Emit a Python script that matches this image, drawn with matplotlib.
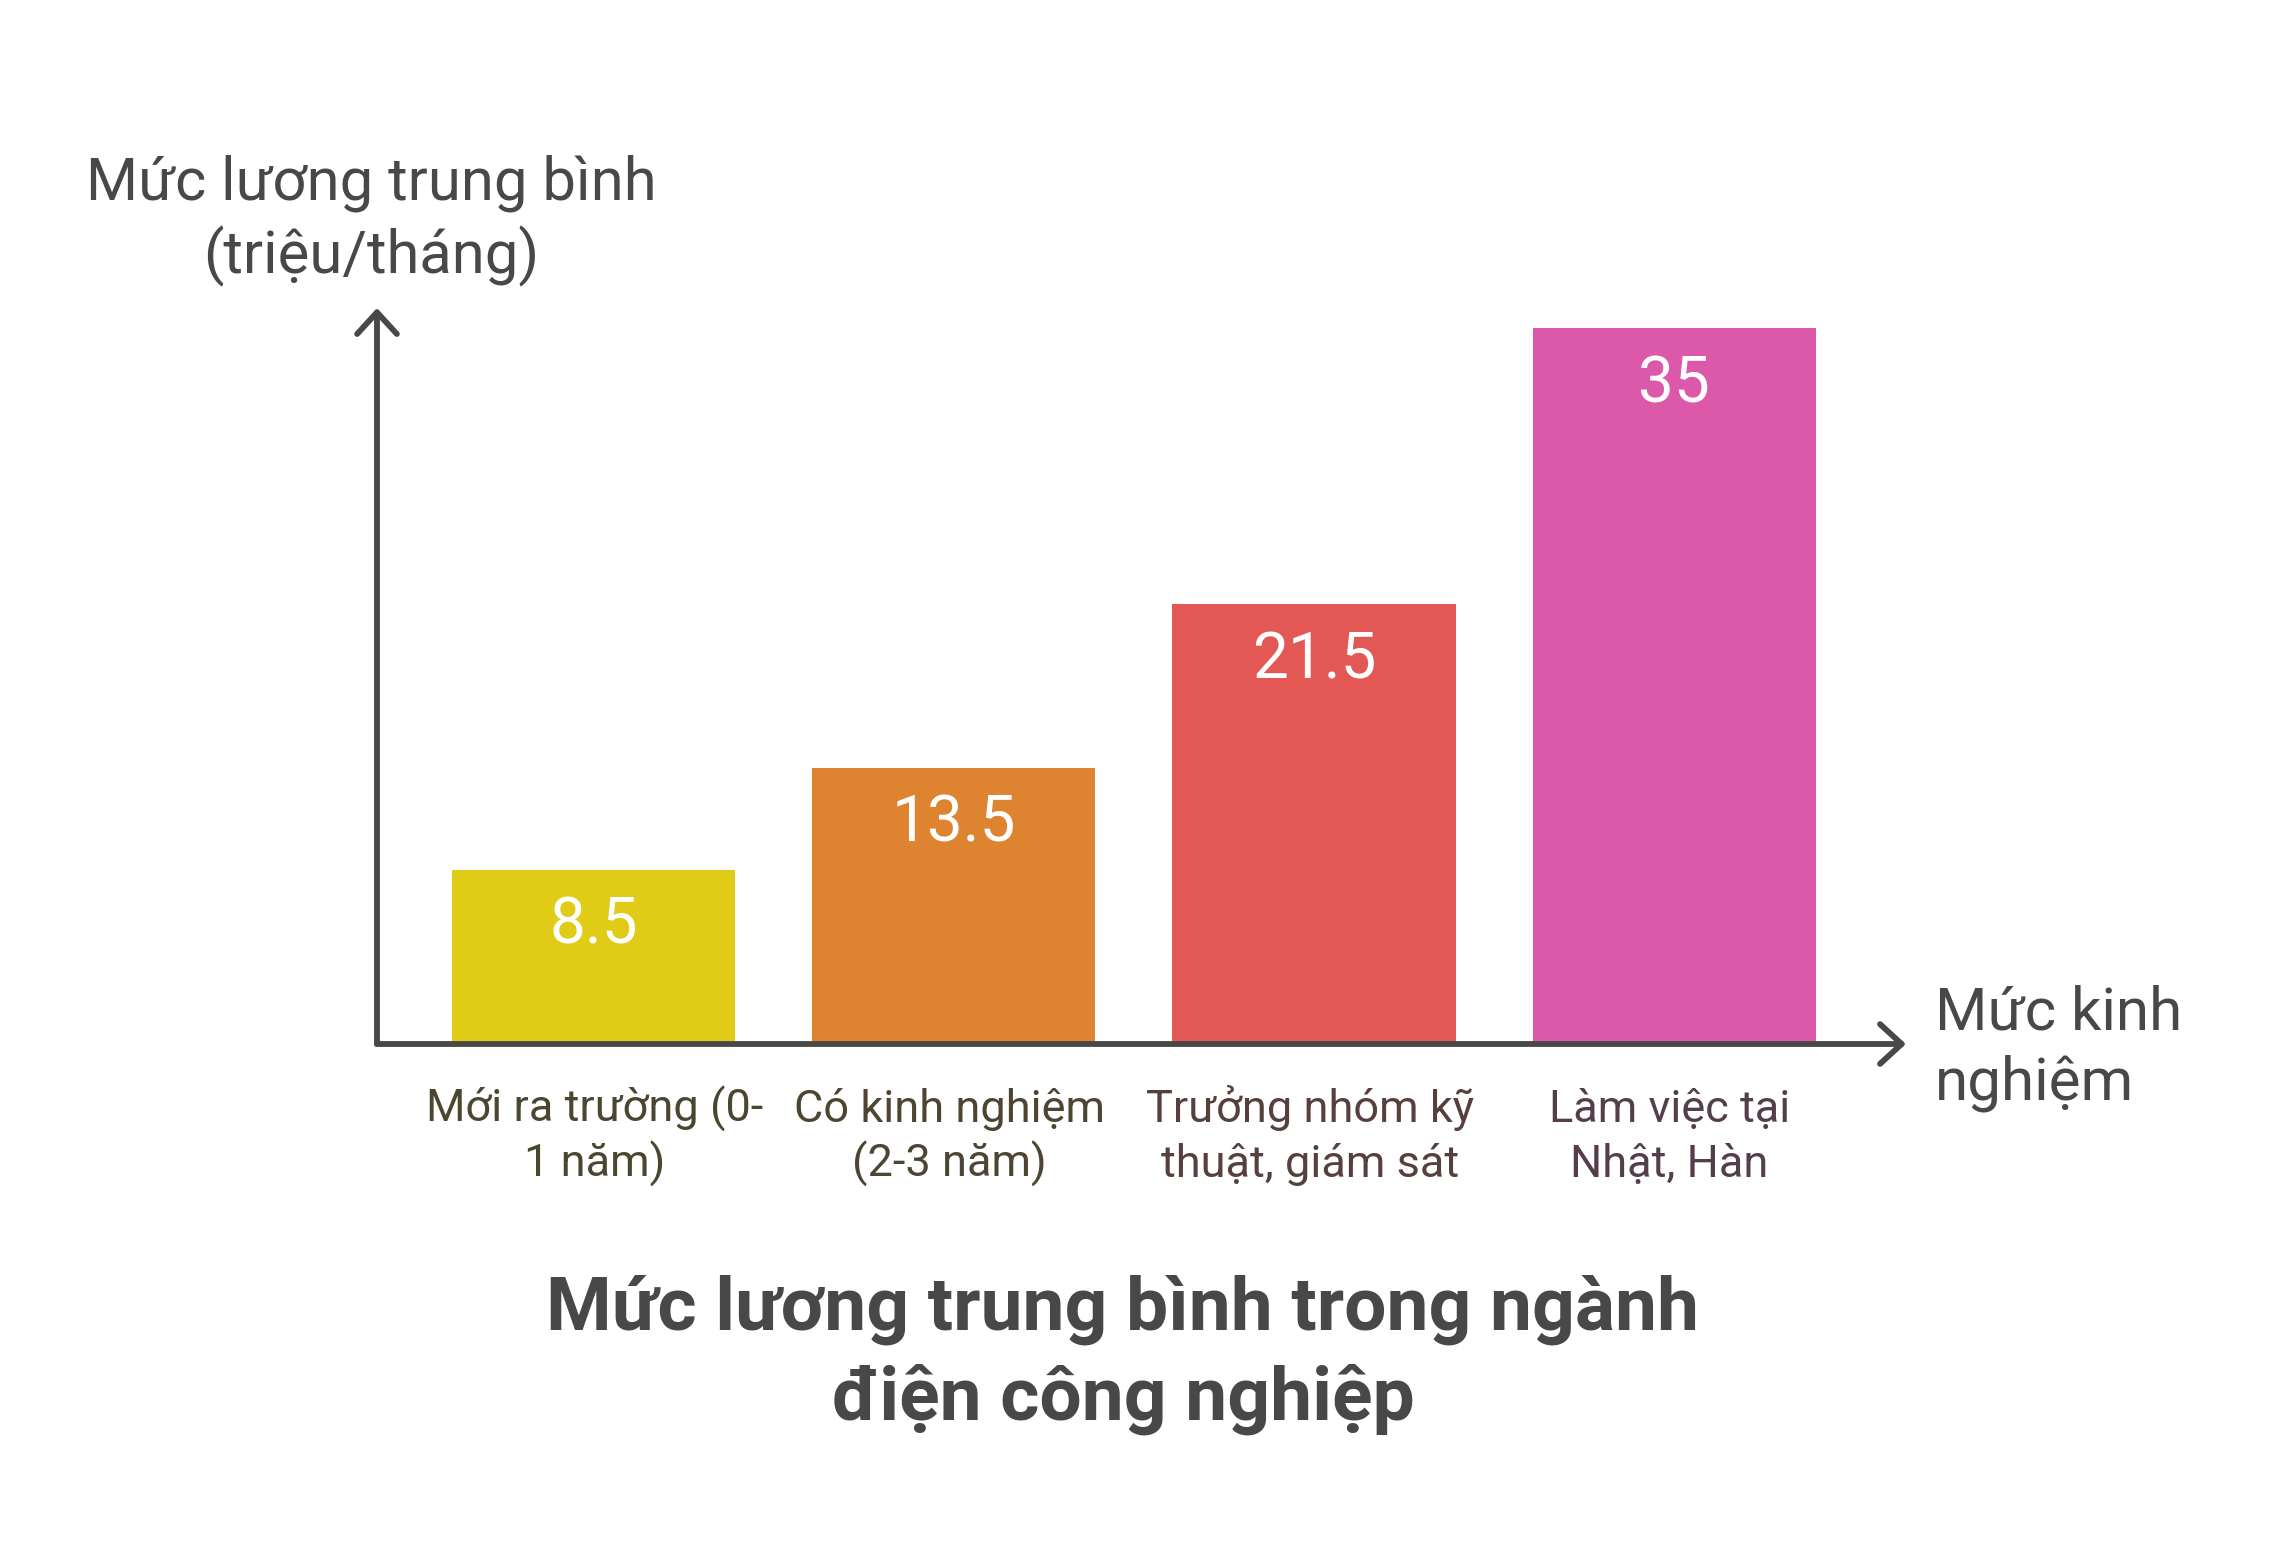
import matplotlib
matplotlib.use("Agg")
import matplotlib.pyplot as plt
import matplotlib.transforms as mtransforms

plt.rcParams['font.family'] = ['Roboto', 'DejaVu Sans']

# data
categories = ["Mới ra trường (0-\n1 năm)", "Có kinh nghiệm\n(2-3 năm)",
              "Trưởng nhóm kỹ\nthuật, giám sát", "Làm việc tại\nNhật, Hàn"]
salaries = [8.5, 13.5, 21.5, 35]
value_labels = ["8.5", "13.5", "21.5", "35"]
bar_colors = ["#e0cc16", "#de8431", "#e35855", "#dc58a8"]
label_colors = ["#4a4630", "#4d4431", "#573f3e", "#553e4b"]

y_title = "Mức lương trung bình\n(triệu/tháng)"
x_title = "Mức kinh\nnghiệm"
chart_title = "Mức lương trung bình trong ngành\nđiện công nghiệp"

W, H = 2286, 1548
AXIS = "#484848"

fig = plt.figure(figsize=(W / 100, H / 100), dpi=100)
fig.patch.set_facecolor("white")

# axes placed in pixels: y-axis at x=377, x-axis at y=1044, arrows end at 1906 / 308
left, right, bottom, top = 377, 1906, 1044, 308
ax = fig.add_axes([left / W, 1 - bottom / H, (right - left) / W, (bottom - top) / H])
ax.set_xlim(-0.601, 3.643)
ax.set_ylim(0, 36.0)
ax.axis("off")

x = list(range(len(salaries)))
ax.bar(x, salaries, width=0.786, color=bar_colors, zorder=1)

for i, v in enumerate(salaries):
    ax.annotate(value_labels[i], xy=(i, v), xytext=(0, -53), textcoords="offset points",
                ha="center", va="baseline", color="white", fontsize=46, zorder=3)

# axis arrows
arrow = dict(arrowstyle="->,head_length=1.2,head_width=1.1", lw=4.2, color=AXIS,
             mutation_scale=13, capstyle="round", joinstyle="round", shrinkA=0, shrinkB=0)
ax.annotate("", xy=(1, 0), xytext=(0, 0), xycoords="axes fraction",
            arrowprops=arrow, zorder=4, annotation_clip=False)
ax.annotate("", xy=(0, 1), xytext=(0, 0), xycoords="axes fraction",
            arrowprops=arrow, zorder=4, annotation_clip=False)


def lines_at(s, x, y0, dy, trans, **kw):
    # place each line of s on its own baseline (pixel positions from the top)
    for k, line in enumerate(s.split("\n")):
        yy = 1 - (y0 + k * dy) / H
        fig.text(x, yy, line, transform=trans, va="baseline", **kw)


label_dx = [1, -4, -4, -5]  # small horizontal nudges, pixels
for i, lab in enumerate(categories):
    blend = mtransforms.blended_transform_factory(
        ax.transData + mtransforms.ScaledTranslation(label_dx[i] / 100, 0, fig.dpi_scale_trans),
        fig.transFigure)
    lines_at(lab, i, 1122, 55, blend, ha="center", fontsize=32.5, color=label_colors[i])

lines_at(y_title, 371 / W, 200, 73, fig.transFigure, ha="center", fontsize=43, color=AXIS)
lines_at(x_title, 1935 / W, 1030, 70, fig.transFigure, ha="left", fontsize=43.3, color=AXIS)
lines_at(chart_title, 1123 / W, 1330, 90, fig.transFigure, ha="center", fontsize=54,
         fontweight="bold", color=AXIS)

fig.savefig("out.png", dpi=100, facecolor="white")
